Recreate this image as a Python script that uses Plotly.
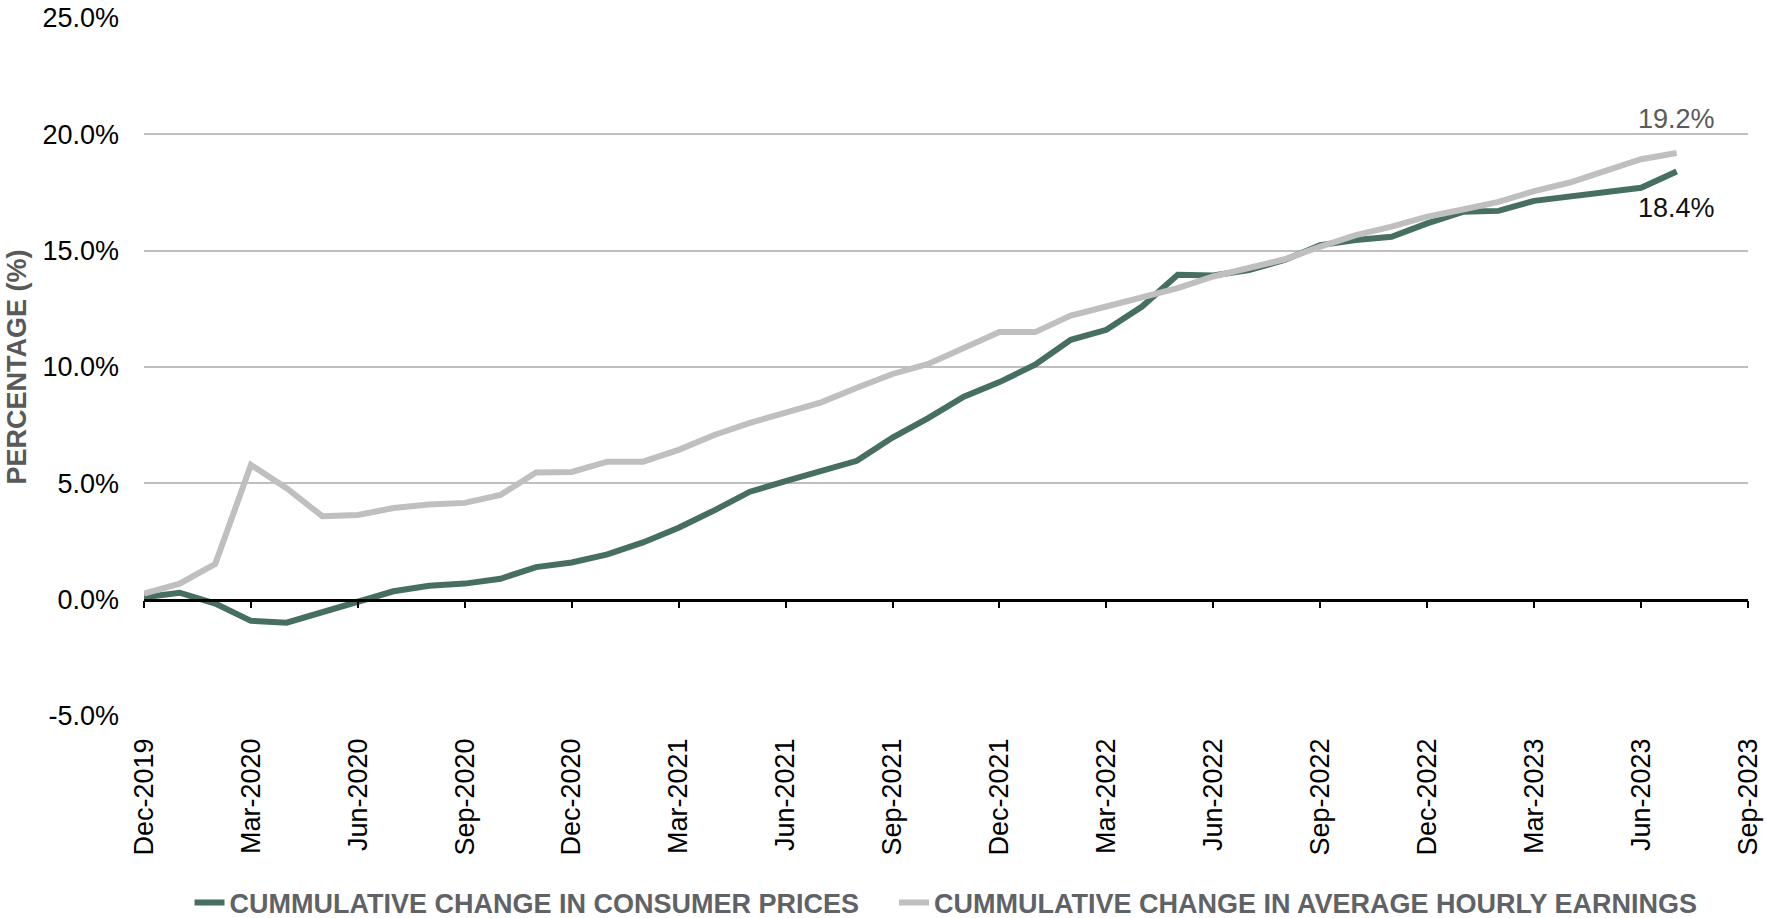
import plotly.graph_objects as go

# Monthly observations, Dec-2019 through Jul-2023
months = [
    "2019-12", "2020-01", "2020-02", "2020-03", "2020-04", "2020-05", "2020-06",
    "2020-07", "2020-08", "2020-09", "2020-10", "2020-11", "2020-12",
    "2021-01", "2021-02", "2021-03", "2021-04", "2021-05", "2021-06",
    "2021-07", "2021-08", "2021-09", "2021-10", "2021-11", "2021-12",
    "2022-01", "2022-02", "2022-03", "2022-04", "2022-05", "2022-06",
    "2022-07", "2022-08", "2022-09", "2022-10", "2022-11", "2022-12",
    "2023-01", "2023-02", "2023-03", "2023-04", "2023-05", "2023-06", "2023-07",
]

# Cumulative change in consumer prices (%)
consumer_prices = [
    0.1, 0.3, -0.17, -0.91, -0.99, -0.56, -0.07,
    0.36, 0.6, 0.69, 0.9, 1.4, 1.6,
    1.95, 2.46, 3.09, 3.84, 4.64, 5.09,
    5.55, 5.97, 6.97, 7.8, 8.72, 9.35,
    10.1, 11.17, 11.6, 12.6, 13.96, 13.93,
    14.17, 14.6, 15.24, 15.46, 15.6, 16.17,
    16.67, 16.71, 17.14, 17.31, 17.5, 17.7, 18.4,
]

# Cumulative change in average hourly earnings (%)
hourly_earnings = [
    0.26, 0.69, 1.54, 5.79, 4.79, 3.59, 3.64,
    3.94, 4.09, 4.16, 4.5, 5.47, 5.49,
    5.93, 5.93, 6.44, 7.08, 7.6, 8.04,
    8.48, 9.11, 9.7, 10.13, 10.79, 11.5,
    11.5, 12.21, 12.6, 12.99, 13.39, 13.89,
    14.24, 14.63, 15.17, 15.67, 16.03, 16.46,
    16.77, 17.1, 17.56, 17.93, 18.43, 18.93, 19.2,
]

# Quarterly axis labels (Dec-2019 .. Sep-2023)
tick_labels = [
    "Dec-2019", "Mar-2020", "Jun-2020", "Sep-2020", "Dec-2020", "Mar-2021",
    "Jun-2021", "Sep-2021", "Dec-2021", "Mar-2022", "Jun-2022", "Sep-2022",
    "Dec-2022", "Mar-2023", "Jun-2023", "Sep-2023",
]

y_ticks = [-5, 0, 5, 10, 15, 20, 25]

series_names = [
    "CUMMULATIVE CHANGE IN CONSUMER PRICES",
    "CUMMULATIVE CHANGE IN AVERAGE HOURLY EARNINGS",
]

GREEN = "#466f5f"
GREY = "#bfbfbf"
FONT = "Liberation Sans, Arial, sans-serif"
LEGEND_PAD = "\u00a0" * 4  # extra room between the two legend entries


def month_index(ym, base="2019-12"):
    y, m = map(int, ym.split("-"))
    by, bm = map(int, base.split("-"))
    return (y - by) * 12 + (m - bm)


x_vals = [month_index(m) for m in months]
tick_vals = [3 * i for i in range(len(tick_labels))]
x_min, x_max = tick_vals[0], tick_vals[-1]
y_min, y_max = y_ticks[0], y_ticks[-1]

fig = go.Figure()

fig.add_trace(go.Scatter(
    x=x_vals, y=consumer_prices, mode="lines", name=series_names[0] + LEGEND_PAD,
    line=dict(color=GREEN, width=6), hoverinfo="skip",
))
fig.add_trace(go.Scatter(
    x=x_vals, y=hourly_earnings, mode="lines", name=series_names[1],
    line=dict(color=GREY, width=6), hoverinfo="skip",
))

# End-of-series value labels
fig.add_annotation(
    x=x_vals[-1], y=hourly_earnings[-1], text=f"{hourly_earnings[-1]:.1f}%",
    showarrow=False, yshift=34, font=dict(family=FONT, size=27, color="#595959"),
)
fig.add_annotation(
    x=x_vals[-1], y=consumer_prices[-1], text=f"{consumer_prices[-1]:.1f}%",
    showarrow=False, yshift=-36, font=dict(family=FONT, size=27, color="#111111"),
)

zero_pos = (0 - y_min) / (y_max - y_min)

fig.update_layout(
    width=1777, height=918,
    margin=dict(l=144, r=29, t=18, b=202, autoexpand=False),
    paper_bgcolor="white", plot_bgcolor="white",
    font=dict(family=FONT, size=27, color="black"),
    showlegend=True,
    legend=dict(
        orientation="h", x=0.5, xanchor="center", y=-0.268, yanchor="middle",
        font=dict(family=FONT, size=27, color="#5f6266", weight="bold"),
        tracegroupgap=0,
    ),
    xaxis=dict(
        range=[x_min, x_max], tickmode="array", tickvals=tick_vals,
        ticktext=tick_labels, tickangle=-90, showgrid=False, zeroline=False,
        showline=False, ticks="", ticklabelstandoff=16, automargin=False,
        tickfont=dict(family=FONT, size=27, color="black"),
    ),
    # axis line with tick marks running along the zero level
    xaxis2=dict(
        range=[x_min, x_max], overlaying="x", anchor="free", position=zero_pos,
        side="bottom", tickmode="array", tickvals=tick_vals, showticklabels=False,
        showgrid=False, zeroline=False, showline=True, linecolor="black",
        linewidth=2.5, ticks="outside", ticklen=7, tickwidth=2, tickcolor="black",
        automargin=False,
    ),
    yaxis=dict(
        range=[y_min, y_max], tickmode="array", tickvals=y_ticks,
        ticktext=[f"{v:.1f}%" for v in y_ticks], showgrid=True,
        gridcolor=GREY, gridwidth=1.5, zeroline=False, showline=False,
        ticks="", ticklabelstandoff=24, automargin=False,
        tickfont=dict(family=FONT, size=27, color="black"),
        title=dict(text="PERCENTAGE (%)", standoff=7,
                   font=dict(family=FONT, size=27, color="#595959", weight="bold")),
    ),
)

# invisible trace to activate the zero-level axis
fig.add_trace(go.Scatter(x=[x_min, x_max], y=[0, 0], xaxis="x2", mode="lines",
                         line=dict(width=0), showlegend=False, hoverinfo="skip"))

fig.write_html("out.html")
